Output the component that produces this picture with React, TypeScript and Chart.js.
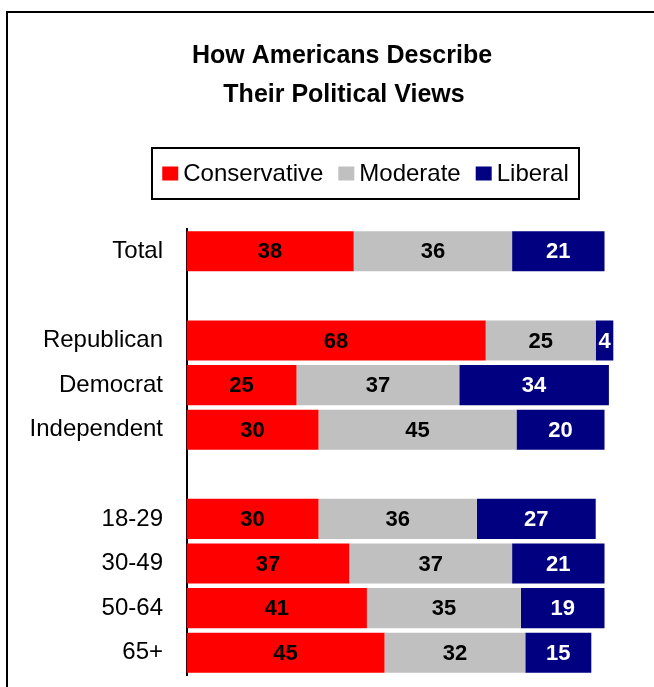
import React, { useEffect, useRef } from "react";
import { Chart, registerables } from "chart.js";

Chart.register(...registerables);

const categories = ["Total", "", "Republican", "Democrat", "Independent", "", "18-29", "30-49", "50-64", "65+"];
const conservative = [38, null, 68, 25, 30, null, 30, 37, 41, 45];
const moderate = [36, null, 25, 37, 45, null, 36, 37, 35, 32];
const liberal = [21, null, 4, 34, 20, null, 27, 21, 19, 15];
const seriesNames = ["Conservative", "Moderate", "Liberal"];
const seriesColors = ["#FF0000", "#C0C0C0", "#000080"];
const labelColors = ["#000000", "#000000", "#FFFFFF"];
const titleLines = ["How Americans Describe", "Their Political Views"];

const FONT = '"Liberation Sans", Arial, sans-serif';

const decorPlugin = {
  id: "decor",
  beforeDraw(chart: any) {
    const ctx = chart.ctx;
    ctx.save();
    ctx.fillStyle = "#FFFFFF";
    ctx.fillRect(0, 0, chart.width, chart.height);
    // frame (left and top)
    ctx.fillStyle = "#000000";
    ctx.fillRect(6, 11, 2, chart.height - 11);
    ctx.fillRect(6, 11, chart.width - 6, 2);
    // title
    ctx.font = `bold 25px ${FONT}`;
    ctx.textAlign = "center";
    ctx.textBaseline = "middle";
    ctx.fillText(titleLines[0], 342, 56);
    ctx.fillText(titleLines[1], 344, 95);
    // legend
    const boxL = 151, boxR = 580, boxT = 147, boxB = 200;
    ctx.lineWidth = 2;
    ctx.strokeStyle = "#000000";
    ctx.strokeRect(boxL + 1, boxT + 1, boxR - boxL - 2, boxB - boxT - 2);
    ctx.font = `24px ${FONT}`;
    ctx.textAlign = "left";
    const sq = 16, gap = 5, itemGap = 15;
    let total = 0;
    const widths = chart.data.datasets.map((d: any) => ctx.measureText(d.label).width);
    widths.forEach((w: number, i: number) => {
      total += sq + gap + w + (i < widths.length - 1 ? itemGap : 0);
    });
    let x = (boxL + boxR) / 2 - total / 2;
    const cy = (boxT + boxB) / 2;
    chart.data.datasets.forEach((d: any, i: number) => {
      ctx.fillStyle = d.backgroundColor;
      ctx.fillRect(x, cy - 7, sq, 14);
      x += sq + gap;
      ctx.fillStyle = "#000000";
      ctx.fillText(d.label, x, cy + 1);
      x += widths[i] + itemGap;
    });
    ctx.restore();
  },
  afterDatasetsDraw(chart: any) {
    const ctx = chart.ctx;
    ctx.save();
    ctx.font = `bold 22px ${FONT}`;
    ctx.textAlign = "center";
    ctx.textBaseline = "middle";
    chart.data.datasets.forEach((d: any, di: number) => {
      const meta = chart.getDatasetMeta(di);
      meta.data.forEach((el: any, i: number) => {
        const v = d.data[i];
        if (v === null || v === undefined) return;
        const p = el.getProps(["x", "y", "base"], true);
        ctx.fillStyle = labelColors[di];
        ctx.fillText(String(v), (p.x + p.base) / 2, p.y + 1);
      });
    });
    ctx.restore();
  },
};

export default function App() {
  const ref = useRef<HTMLCanvasElement | null>(null);
  useEffect(() => {
    if (!ref.current) return;
    const chart = new Chart(ref.current, {
      type: "bar",
      data: {
        labels: categories,
        datasets: [conservative, moderate, liberal].map((vals, i) => ({
          label: seriesNames[i],
          data: vals,
          backgroundColor: seriesColors[i],
          borderWidth: 0,
          categoryPercentage: 0.9,
          barPercentage: 1,
        })),
      },
      options: {
        indexAxis: "y",
        responsive: false,
        animation: false,
        layout: { padding: { top: 229, bottom: 12, left: 0, right: 27.5 } },
        plugins: {
          legend: { display: false },
          title: { display: false },
          tooltip: { enabled: false },
        },
        scales: {
          x: { stacked: true, display: false, min: 0, max: 100 },
          y: {
            stacked: true,
            grid: { display: false, drawTicks: false },
            border: { display: true, color: "#000000", width: 2 },
            ticks: { color: "#000000", padding: 23.5, font: { family: FONT, size: 24 } },
            afterFit(scale: any) {
              scale.width = 186.5;
              scale.paddingTop = 0;
              scale.paddingBottom = 0;
            },
          },
        },
      },
      plugins: [decorPlugin],
    } as any);
    return () => chart.destroy();
  }, []);
  return (
    <div style={{ position: "absolute", left: 0, top: 0, width: 654, height: 687 }}>
      <canvas ref={ref} width={654} height={687} style={{ display: "block" }} />
    </div>
  );
}
